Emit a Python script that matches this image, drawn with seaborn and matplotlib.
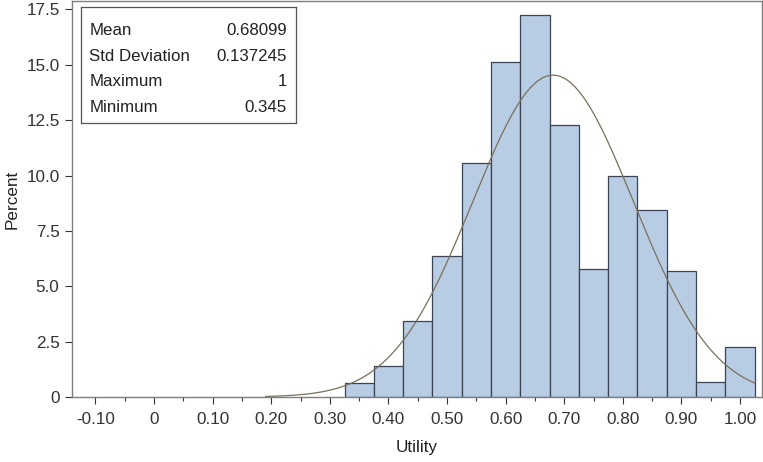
import numpy as np
import pandas as pd
import seaborn as sns
import matplotlib.pyplot as plt

# bin midpoints (width 0.05) and percent of observations in each bin
bin_mid = [0.35, 0.40, 0.45, 0.50, 0.55, 0.60, 0.65, 0.70, 0.75, 0.80, 0.85, 0.90, 0.95, 1.00]
percent = [0.63, 1.41, 3.45, 6.37, 10.57, 15.14, 17.25, 12.29, 5.8, 9.98, 8.43, 5.69, 0.68, 2.26]

# summary statistics shown in the inset
stat_names = ['Mean', 'Std Deviation', 'Maximum', 'Minimum']
stat_values = ['0.68099', '0.137245', '1', '0.345']
mean_val = 0.68099
std_val = 0.137245

x_ticks = [-0.10, 0, 0.10, 0.20, 0.30, 0.40, 0.50, 0.60, 0.70, 0.80, 0.90, 1.00]
x_tick_labels = ['-0.10', '0', '0.10', '0.20', '0.30', '0.40', '0.50', '0.60', '0.70', '0.80', '0.90', '1.00']
y_ticks = [0, 2.5, 5.0, 7.5, 10.0, 12.5, 15.0, 17.5]
y_tick_labels = ['0', '2.5', '5.0', '7.5', '10.0', '12.5', '15.0', '17.5']

bin_width = 0.05
df = pd.DataFrame({'Utility': bin_mid, 'Percent': percent})

sns.set_style('white')
plt.rcParams['font.family'] = ['Liberation Sans', 'DejaVu Sans']

fig = plt.figure(figsize=(7.63, 4.62), dpi=100)
ax = fig.add_axes([0.0944, 0.1407, 0.9043, 0.857])

sns.histplot(data=df, x='Utility', weights='Percent', binwidth=bin_width,
             binrange=(bin_mid[0] - bin_width / 2, bin_mid[-1] + bin_width / 2), ax=ax,
             color='#B8CCE4', edgecolor='#3A4454', linewidth=0.9, alpha=1)

# fitted normal curve, scaled to percent per bin
xs = np.linspace(0.19, 1.025, 300)
ys = 100 * bin_width * np.exp(-0.5 * ((xs - mean_val) / std_val) ** 2) / (std_val * np.sqrt(2 * np.pi))
sns.lineplot(x=xs, y=ys, ax=ax, color='#7A705A', linewidth=0.9)

ax.set_xlim(-0.14, 1.0375)
ax.set_ylim(0, 17.88)
ax.set_xticks(x_ticks)
ax.set_xticklabels(x_tick_labels)
ax.set_xticks(np.arange(-0.05, 1.0, 0.1), minor=True)
ax.set_yticks(y_ticks)
ax.set_yticklabels(y_tick_labels)
ax.tick_params(axis='both', which='both', direction='out', labelsize=12.3, colors='#333333',
               length=5, width=0.8, bottom=True, left=True)
ax.tick_params(axis='x', which='minor', length=3)
ax.tick_params(axis='x', pad=6)
ax.tick_params(axis='y', pad=4)
for sp in ax.spines.values():
    sp.set_color('#7F7F7F')
    sp.set_linewidth(1)
ax.set_xlabel('Utility', fontsize=12.3, color='#222222', labelpad=9)
ax.set_ylabel('Percent', fontsize=12.3, color='#222222', labelpad=5)

# inset statistics table
inset = ax.inset_axes([0.0126, 0.691, 0.312, 0.293])
inset.set_xticks([])
inset.set_yticks([])
inset.set_facecolor('white')
for sp in inset.spines.values():
    sp.set_color('#555555')
    sp.set_linewidth(0.9)
for i, (name, val) in enumerate(zip(stat_names, stat_values)):
    yy = 0.80 - i * 0.22
    inset.text(0.04, yy, name, fontsize=12.2, va='center', ha='left', color='#222222', transform=inset.transAxes)
    inset.text(0.958, yy, val, fontsize=12.2, va='center', ha='right', color='#222222', transform=inset.transAxes)

fig.savefig('out.png', dpi=100)
